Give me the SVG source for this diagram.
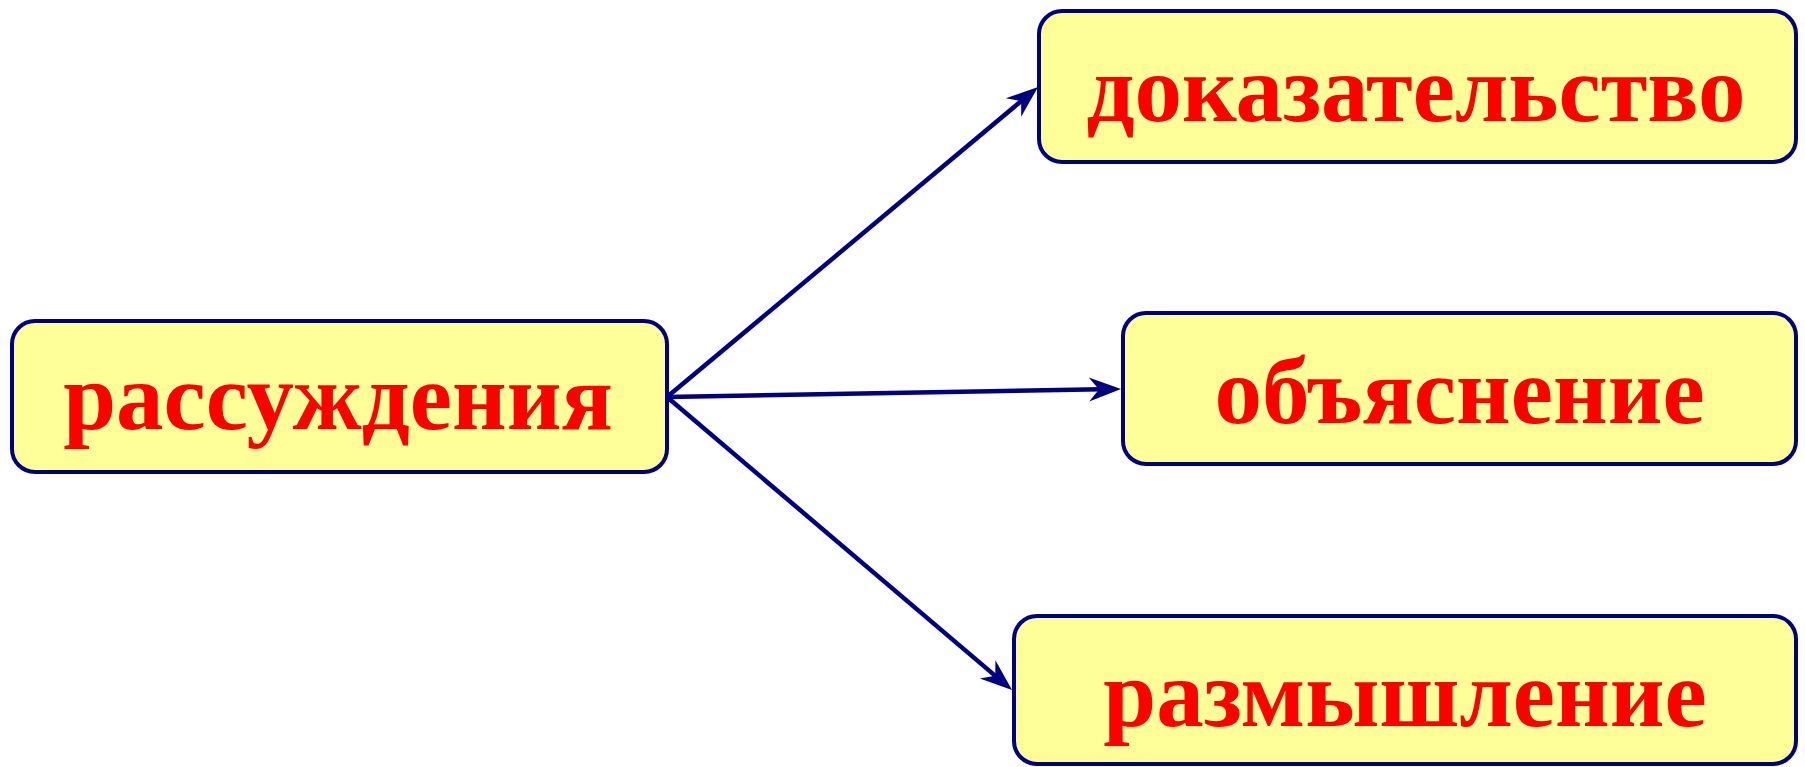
<svg xmlns="http://www.w3.org/2000/svg" width="1805" height="767" viewBox="0 0 1805 767">
<defs>
<style>
.box{fill:#FFFF99;stroke:#000080;stroke-width:4}
.lbl{font-family:"Liberation Serif","Times New Roman",serif;font-weight:bold;font-size:95px;fill:#FF0000;text-anchor:middle}
.conn{stroke:#000080;stroke-width:4.5;fill:none}
</style>
<marker id="arr" markerUnits="userSpaceOnUse" markerWidth="40" markerHeight="40" refX="0" refY="0" orient="auto" overflow="visible">
<path d="M20,0 L-12,-12 L-2,0 L-12,12 Z" fill="#000080"/>
</marker>
</defs>
<rect width="1805" height="767" fill="#FFFFFF"/>
<g id="connectors">
<line class="conn" x1="667" y1="397" x2="1022.7" y2="99.8" marker-end="url(#arr)"/>
<line class="conn" x1="667" y1="397" x2="1101" y2="389.35" marker-end="url(#arr)"/>
<line class="conn" x1="667" y1="397" x2="996.8" y2="677.1" marker-end="url(#arr)"/>
</g>
<g id="node-rassuzhdeniya">
<rect class="box" x="12" y="321" width="655" height="151" rx="23"/>
<text class="lbl" x="338" y="429">рассуждения</text>
</g>
<g id="node-dokazatelstvo">
<rect class="box" x="1039" y="11" width="757" height="151" rx="23"/>
<text class="lbl" x="1416" y="121">доказательство</text>
</g>
<g id="node-obyasnenie">
<rect class="box" x="1123" y="313" width="673" height="151" rx="23"/>
<text class="lbl" x="1459.5" y="423">объяснение</text>
</g>
<g id="node-razmyshlenie">
<rect class="box" x="1014" y="616" width="782" height="148" rx="23"/>
<text class="lbl" x="1405" y="726">размышление</text>
</g>
</svg>
